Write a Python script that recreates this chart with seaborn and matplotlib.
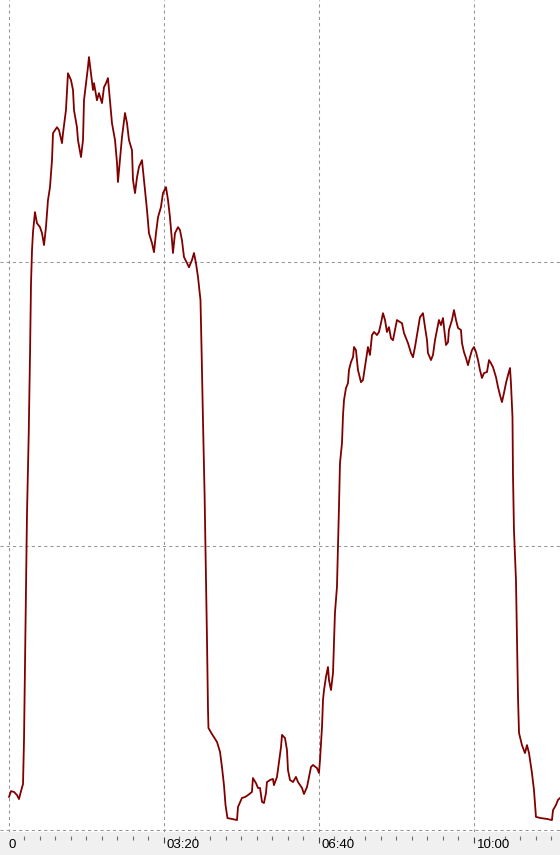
import numpy as np
import pandas as pd
import seaborn as sns
import matplotlib.pyplot as plt

# --- DATA (time in seconds, value in arbitrary units; gridlines every 100) ---
TIME_S = [
    0.0, 2.6, 6.5, 10.3, 12.9, 15.5, 18.1, 19.4, 20.6, 21.9,
    23.2, 25.4, 27.1, 28.4, 29.7, 31.0, 33.5, 36.1, 40.0, 42.6,
    45.2, 47.7, 50.3, 52.9, 55.5, 56.8, 61.9, 64.5, 68.4, 69.7,
    73.5, 76.1, 80.0, 82.6, 83.9, 87.7, 89.0, 92.9, 95.5, 96.8,
    99.4, 101.9, 103.2, 105.8, 108.4, 109.7, 113.5, 116.1, 120.0, 122.6,
    125.2, 127.7, 130.3, 132.9, 136.8, 139.4, 140.6, 143.2, 145.8, 149.7,
    152.3, 154.8, 158.7, 160.0, 162.6, 165.2, 167.7, 171.6, 172.9, 175.5,
    178.1, 180.6, 184.5, 187.1, 189.7, 192.3, 196.1, 198.7, 202.6, 205.2,
    207.7, 210.3, 211.6, 214.2, 218.1, 220.6, 223.2, 225.8, 229.7, 232.3,
    236.1, 238.7, 241.3, 243.9, 247.1, 248.5, 250.3, 252.4, 253.8, 255.5,
    256.8, 257.4, 261.9, 268.4, 272.3, 274.8, 277.4, 279.4, 281.9, 287.7,
    294.2, 295.5, 300.6, 304.5, 308.4, 313.5, 314.8, 318.7, 321.3, 323.9,
    326.5, 329.0, 331.6, 332.9, 336.8, 340.6, 341.9, 345.8, 348.4, 351.0,
    352.3, 356.1, 358.7, 360.0, 362.6, 366.5, 370.3, 372.9, 378.1, 380.6,
    384.5, 387.1, 389.7, 392.3, 397.4, 400.0, 401.3, 403.9, 405.2, 406.5,
    409.0, 411.6, 412.9, 415.5, 418.1, 419.4, 420.6, 423.2, 424.5, 425.8,
    427.1, 429.7, 431.0, 432.3, 434.8, 437.4, 438.7, 441.3, 443.9, 445.2,
    447.7, 450.3, 454.2, 456.8, 458.1, 460.6, 463.2, 465.8, 468.4, 471.0,
    474.8, 477.4, 480.0, 482.6, 485.2, 487.7, 490.3, 492.9, 495.5, 499.4,
    500.6, 504.5, 507.1, 509.7, 512.3, 514.8, 518.7, 521.3, 523.9, 526.5,
    530.3, 534.2, 536.8, 539.4, 540.6, 544.5, 547.1, 549.7, 552.3, 554.8,
    557.4, 560.0, 561.3, 563.9, 566.5, 567.7, 571.6, 574.2, 576.8, 579.4,
    583.2, 584.5, 587.1, 589.7, 592.3, 594.8, 597.4, 600.0, 602.6, 605.2,
    607.7, 610.3, 612.9, 616.8, 619.4, 621.9, 624.5, 628.4, 631.0, 633.5,
    636.1, 638.7, 641.3, 643.9, 646.5, 647.7, 649.7, 650.3, 651.6, 654.2,
    655.5, 656.8, 658.1, 661.9, 665.8, 668.4, 671.0, 674.8, 677.4, 680.0,
    686.5, 694.2, 700.6, 702.0, 705.8, 708.4, 712.3,
]

VALUE = [
    11.6, 13.7, 13.4, 12.3, 10.9, 13.7, 16.2, 32.0, 56.7, 81.7,
    110.9, 138.7, 166.9, 192.3, 204.2, 210.6, 217.6, 213.7, 212.3, 210.2,
    206.0, 212.3, 221.8, 226.4, 235.9, 245.4, 247.5, 246.5, 241.9, 245.4,
    253.5, 266.5, 264.1, 260.6, 253.5, 247.5, 243.0, 237.0, 243.0, 257.0,
    263.0, 268.7, 272.2, 266.5, 260.6, 263.0, 257.0, 259.5, 256.0, 261.6,
    263.0, 264.8, 257.0, 248.9, 243.0, 234.9, 228.2, 235.9, 244.0, 252.5,
    248.9, 243.0, 239.4, 228.9, 224.3, 229.9, 233.5, 235.9, 232.4, 225.4,
    218.3, 210.2, 206.7, 203.5, 210.2, 215.8, 219.4, 224.3, 226.4, 221.8,
    215.8, 207.7, 203.2, 210.2, 212.3, 211.3, 207.7, 201.8, 199.6, 198.2,
    200.7, 203.2, 199.6, 194.7, 186.6, 169.0, 144.4, 118.0, 95.1, 66.9,
    42.3, 35.9, 33.8, 31.0, 27.5, 22.2, 15.8, 8.8, 4.2, 3.9,
    3.5, 8.1, 11.3, 11.6, 12.3, 13.4, 18.3, 16.5, 14.8, 14.8,
    9.9, 9.5, 13.0, 16.9, 17.6, 18.0, 15.8, 18.7, 23.9, 29.2,
    33.5, 32.4, 28.2, 21.1, 17.6, 16.9, 18.7, 16.9, 14.8, 12.7,
    15.1, 18.7, 22.2, 22.9, 21.8, 20.1, 24.6, 36.3, 45.8, 49.3,
    53.9, 57.4, 52.8, 49.3, 55.3, 66.9, 76.4, 85.6, 99.6, 113.7,
    129.2, 136.3, 146.1, 151.4, 155.6, 157.4, 162.0, 164.8, 166.5, 170.1,
    169.0, 162.0, 157.7, 158.5, 160.9, 165.5, 170.1, 167.3, 174.3, 175.4,
    174.3, 175.4, 178.5, 182.0, 179.6, 175.4, 177.1, 173.2, 172.5, 177.8,
    179.6, 178.9, 178.5, 175.0, 173.2, 171.5, 168.0, 166.5, 170.1, 174.3,
    180.6, 182.0, 177.1, 172.5, 168.0, 165.5, 167.3, 172.5, 176.1, 179.6,
    177.8, 180.3, 177.1, 170.8, 171.8, 176.1, 179.6, 183.1, 179.6, 176.8,
    176.1, 171.5, 168.3, 166.2, 163.7, 166.5, 169.0, 170.1, 168.3, 165.5,
    162.0, 159.2, 160.9, 161.3, 165.5, 164.4, 163.0, 159.5, 156.0, 153.2,
    150.7, 153.9, 157.4, 160.2, 162.7, 157.4, 145.4, 125.7, 105.6, 88.0,
    66.2, 46.8, 34.2, 29.9, 27.1, 29.9, 27.1, 20.1, 14.1, 4.6,
    4.2, 3.9, 3.5, 7.0, 8.8, 10.6, 11.6,
]

MAJOR_TICKS = [0, 200, 400, 600]
MAJOR_LABELS = ["0", "03:20", "06:40", "10:00"]
Y_GRID = [0, 100, 200]

# --- DESIGN ---
sns.set_theme(style="white")
plt.rcParams["font.family"] = ["Liberation Sans", "DejaVu Sans"]
LINE_COLOR = "#800000"
GRID_COLOR = "#959595"
STRIP_COLOR = "#f0f0f0"
XLIM = (-11.6, 711.0)

df = pd.DataFrame({"t": TIME_S, "v": VALUE})

W, H = 560, 855
STRIP_H = 23
fig = plt.figure(figsize=(W / 100, H / 100), dpi=100, facecolor="white")

# Hauptplot
ax = fig.add_axes([0, STRIP_H / H, 1, (H - STRIP_H) / H])
ax.set_facecolor("white")
sns.lineplot(data=df, x="t", y="v", ax=ax, color=LINE_COLOR, linewidth=1.3,
             estimator=None, sort=False, zorder=3)
ax.set_xlim(*XLIM)
ax.set_ylim(-0.7, 292.3)
for t in MAJOR_TICKS:
    ax.axvline(t, color=GRID_COLOR, linewidth=0.75, linestyle=(0, (3, 3)), zorder=1)
for y in Y_GRID:
    ax.axhline(y, color=GRID_COLOR, linewidth=0.75, linestyle=(0, (3, 3)), zorder=1)
ax.set_xticks([])
ax.set_yticks([])
ax.set_xlabel("")
ax.set_ylabel("")
for s in ax.spines.values():
    s.set_visible(False)

# Zeitleiste unten
ax_s = fig.add_axes([0, 0, 1, STRIP_H / H])
ax_s.set_facecolor(STRIP_COLOR)
ax_s.set_xlim(*XLIM)
ax_s.set_ylim(STRIP_H, 0)
ax_s.set_xticks([])
ax_s.set_yticks([])
for s in ax_s.spines.values():
    s.set_visible(False)

minor = [m for m in np.arange(20, 720, 20) if m not in MAJOR_TICKS]
ax_s.vlines(minor, 4, 7.5, color="#707070", linewidth=0.8)
ax_s.vlines(MAJOR_TICKS[1:], 4.5, 11, color="#404040", linewidth=0.8)

px_to_s = (XLIM[1] - XLIM[0]) / W
for t, lab in zip(MAJOR_TICKS, MAJOR_LABELS):
    x = t + (3 * px_to_s if t > 0 else 0)
    ax_s.text(x, 6.5, lab, ha="left", va="top", fontsize=9.5, color="black")

fig.savefig("out.png", dpi=100, facecolor="white")
plt.close()
